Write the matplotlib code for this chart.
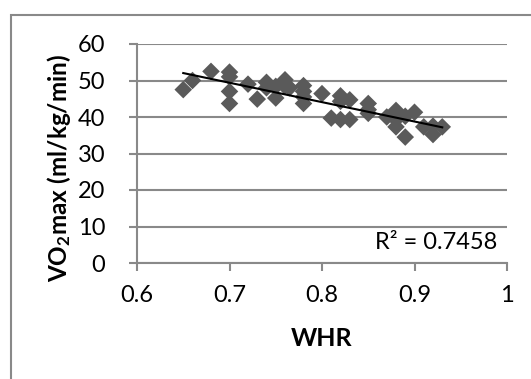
import numpy as np
import matplotlib
matplotlib.use("Agg")
import matplotlib.pyplot as plt
from matplotlib.patches import Rectangle

whr = [0.65, 0.66, 0.68, 0.70, 0.70, 0.70, 0.70, 0.72, 0.73, 0.74, 0.74, 0.75, 0.75,
       0.76, 0.76, 0.765, 0.78, 0.78, 0.78, 0.78, 0.80, 0.81, 0.82, 0.82, 0.82, 0.83,
       0.83, 0.85, 0.85, 0.85, 0.87, 0.88, 0.88, 0.88, 0.89, 0.89, 0.90, 0.91, 0.92,
       0.92, 0.93]
vo2 = [47.5, 50.0, 52.5, 52.3, 51.0, 47.0, 43.7, 49.0, 44.9, 49.5, 48.0, 45.2, 48.4,
       50.2, 48.4, 48.0, 48.6, 47.0, 45.5, 43.7, 46.4, 39.7, 45.8, 44.3, 39.3, 44.7,
       39.3, 43.7, 42.0, 41.0, 40.0, 41.8, 39.3, 37.3, 40.2, 34.5, 41.3, 37.3, 35.2,
       37.5, 37.3]
x_ticks = [0.6, 0.7, 0.8, 0.9, 1.0]
x_tick_labels = ["0.6", "0.7", "0.8", "0.9", "1"]
y_ticks = [0, 10, 20, 30, 40, 50, 60]
r2_label = "R² = 0.7458"

plt.rcParams['font.family'] = ['Lato', 'DejaVu Sans']
plt.rcParams['mathtext.fontset'] = 'custom'
plt.rcParams['mathtext.rm'] = 'Lato'
plt.rcParams['mathtext.bf'] = 'Lato:bold'
plt.rcParams['mathtext.it'] = 'Lato:italic'

W, H = 531, 379
fig = plt.figure(figsize=(W / 100, H / 100), dpi=100)
ax = fig.add_axes([137 / W, 1 - 263 / H, 370 / W, 219 / H])

fs = 17
grid_c = '#898989'
ax.set_xlim(0.6, 1.0)
ax.set_ylim(0, 60)
ax.set_xticks(x_ticks)
ax.set_xticklabels(x_tick_labels)
ax.set_yticks(y_ticks)
ax.yaxis.grid(True, color=grid_c, lw=1.5)
ax.set_axisbelow(True)
for s in ['top', 'right']:
    ax.spines[s].set_visible(False)
for s in ['left', 'bottom']:
    ax.spines[s].set_color(grid_c)
    ax.spines[s].set_linewidth(1.5)
ax.tick_params(axis='both', colors=grid_c, width=1.5, length=6, labelcolor='black',
               labelsize=fs, direction='out')
ax.tick_params(axis='y', pad=17)
ax.tick_params(axis='x', pad=10)

ax.scatter(whr, vo2, marker='D', s=80, color='#5a5a5a', edgecolors='none', zorder=3)

coef = np.polyfit(whr, vo2, 1)
xs = np.array([min(whr), max(whr)])
ax.plot(xs, np.polyval(coef, xs), color='black', lw=1.5, zorder=4)

ax.text(0.989, 5.5, r2_label, ha='right', va='center', fontsize=fs)

ax.set_xlabel('WHR', fontsize=18, fontweight='bold', va='center')
ax.xaxis.set_label_coords(0.5, -0.347)
ax.set_ylabel(r'$\mathbf{VO_2max\ (ml/kg/min)}$', fontsize=17.5, va='center')
ax.yaxis.set_label_coords(-0.21, 0.434)

fig.patches.append(Rectangle((11 / W, -0.1), 1.2, 1 - 15.5 / H + 0.1, transform=fig.transFigure,
                             fill=False, edgecolor=grid_c, lw=1.5, zorder=0))

fig.savefig('out.png', dpi=100)
